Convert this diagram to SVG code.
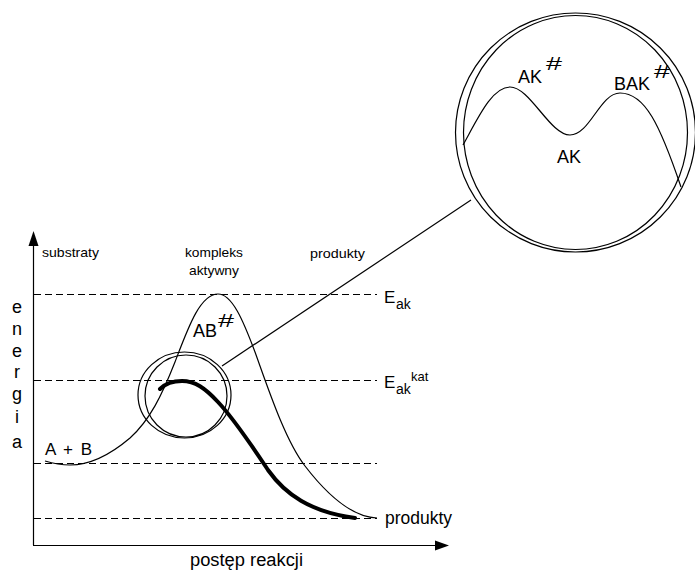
<svg xmlns="http://www.w3.org/2000/svg" width="695" height="570" viewBox="0 0 695 570">
<style>
.t{font-family:"Liberation Sans",Arial,sans-serif;fill:#000}
.ln{fill:none;stroke:#000;stroke-width:1.2}
.dash{fill:none;stroke:#000;stroke-width:1.1;stroke-dasharray:7 4}
.thick{fill:none;stroke:#000;stroke-width:4;stroke-linecap:round}
</style>
<rect width="695" height="570" fill="#fff"/>
<g id="axes">
<line class="ln" x1="33.5" y1="545" x2="33.5" y2="244" stroke-width="1.5"/>
<polygon points="33.5,231 28.5,246 38.5,246"/>
<line class="ln" x1="33" y1="545.5" x2="437" y2="545.5" stroke-width="1.5"/>
<polygon points="449,545.5 435,540.5 435,550.5"/>
</g>
<g id="levels">
<line class="dash" x1="34" y1="294.5" x2="377" y2="294.5"/>
<line class="dash" x1="34" y1="380.5" x2="377" y2="380.5"/>
<line class="dash" x1="34" y1="463.5" x2="377" y2="463.5"/>
<line class="dash" x1="34" y1="518.5" x2="377" y2="518.5"/>
</g>
<g id="curve-uncatalyzed">
<path class="ln" d="M45,461 C55,464 62,465 70,465 C90,465 110,455 130,438 C150,420 162,395 175,362 C188,328 200,294 218,294 C232,294 243,320 255,352 C268,388 285,440 305,466 C325,492 350,517 377,518"/>
</g>
<g id="curve-catalyzed">
<path class="thick" d="M160,389 C166,383 172,381 182,381 C195,381 205,388 218,402 C235,420 252,446 268,470 C285,494 310,512 355,518"/>
</g>
<g id="lens-small">
<ellipse class="ln" cx="184.5" cy="395" rx="46.5" ry="43"/>
<ellipse class="ln" cx="186" cy="396" rx="41" ry="41"/>
</g>
<g id="lens-big">
<ellipse class="ln" cx="575.5" cy="132.5" rx="120" ry="119.5"/>
<ellipse class="ln" cx="575.5" cy="132.5" rx="112" ry="117"/>
<path class="ln" d="M463,145 C478,118 492,87 510,87 C530,87 550,135 570,135 C590,135 600,93 620,93 C645,93 660,125 681,187"/>
<text class="t" x="518" y="83" font-size="18">AK</text>
<text class="t" x="546" y="70" font-size="19" textLength="16" lengthAdjust="spacingAndGlyphs">#</text>
<text class="t" x="614" y="90" font-size="18">BAK</text>
<text class="t" x="654" y="78" font-size="19" textLength="16" lengthAdjust="spacingAndGlyphs">#</text>
<text class="t" x="557" y="163" font-size="18">AK</text>
</g>
<g id="connectors">
<line class="ln" x1="222" y1="366" x2="471" y2="200"/>
</g>
<g id="labels">
<text class="t" x="42" y="257" font-size="13" textLength="57" lengthAdjust="spacingAndGlyphs">substraty</text>
<text class="t" x="185" y="257" font-size="13" textLength="58" lengthAdjust="spacingAndGlyphs">kompleks</text>
<text class="t" x="189" y="275" font-size="13" textLength="50" lengthAdjust="spacingAndGlyphs">aktywny</text>
<text class="t" x="310" y="258" font-size="13" textLength="55" lengthAdjust="spacingAndGlyphs">produkty</text>
<text class="t" x="384" y="303" font-size="17">E</text>
<text class="t" x="396" y="309" font-size="14">ak</text>
<text class="t" x="384" y="388" font-size="17">E</text>
<text class="t" x="396" y="394" font-size="14">ak</text>
<text class="t" x="411" y="381" font-size="13">kat</text>
<text class="t" x="193" y="337" font-size="18">AB</text>
<text class="t" x="218" y="327" font-size="19" textLength="16" lengthAdjust="spacingAndGlyphs">#</text>
<text class="t" x="45" y="455" font-size="17" textLength="47" lengthAdjust="spacing">A + B</text>
<text class="t" x="385" y="524" font-size="18" textLength="67" lengthAdjust="spacingAndGlyphs">produkty</text>
<text class="t" x="190" y="566" font-size="18" textLength="113" lengthAdjust="spacingAndGlyphs">postęp reakcji</text>
<g font-size="18" text-anchor="middle">
<text class="t" x="17" y="313">e</text>
<text class="t" x="17" y="335">n</text>
<text class="t" x="17" y="357">e</text>
<text class="t" x="17" y="378">r</text>
<text class="t" x="17" y="400">g</text>
<text class="t" x="17" y="423">i</text>
<text class="t" x="17" y="448">a</text>
</g>
</g>
</svg>
